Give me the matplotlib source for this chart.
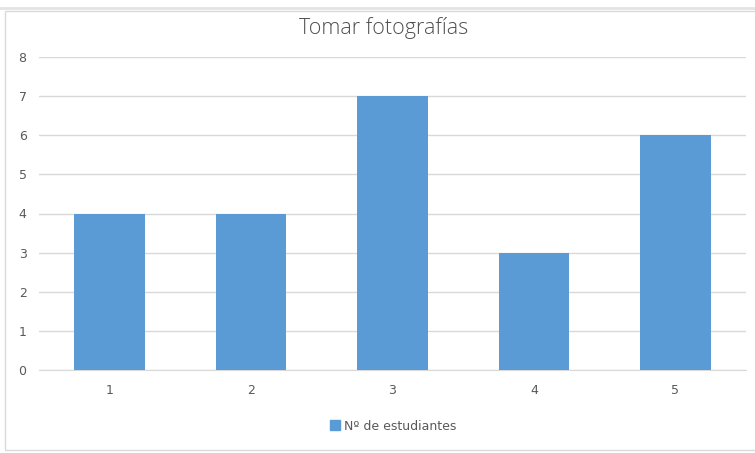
import matplotlib
matplotlib.use("Agg")
import matplotlib.pyplot as plt
from matplotlib.patches import Rectangle, Patch

categories = ["1", "2", "3", "4", "5"]
values = [4, 4, 7, 3, 6]
series_name = "Nº de estudiantes"
title = "Tomar fotografías"
yticks = [0, 1, 2, 3, 4, 5, 6, 7, 8]

W, H = 755, 453
fig = plt.figure(figsize=(W/100, H/100), dpi=100)
fig.patch.set_facecolor("white")

# chart border
fig.add_artist(Rectangle((5/W, 1 - 450/H), 1.2, (450-11)/H, transform=fig.transFigure,
                         fill=False, edgecolor="#d9d9d9", linewidth=1))
fig.add_artist(plt.Line2D([0, 1], [1 - 8/H, 1 - 8/H], transform=fig.transFigure,
                          color="#e3e3e3", linewidth=2))

ax = fig.add_axes([39/W, 1 - 370/H, 707/W, 313/H])
x = list(range(len(categories)))
ax.bar(x, values, width=0.5, color="#5b9bd5", zorder=3)
ax.set_xlim(-0.5, len(categories) - 0.5)
ax.set_ylim(0, 8)
ax.set_yticks(yticks)
ax.set_xticks(x)
ax.set_xticklabels(categories)
ax.grid(axis="y", color="#d9d9d9", linewidth=1, zorder=0)
for s in ["top", "right", "left"]:
    ax.spines[s].set_visible(False)
ax.spines["bottom"].set_color("#d9d9d9")
ax.tick_params(axis="both", length=0, labelsize=9, labelcolor="#595959")
ax.tick_params(axis="y", pad=9)
ax.tick_params(axis="x", pad=10)

fig.text(384/W, 1 - 28/H, title, ha="center", va="center", fontsize=15.5,
         color="#505050", family="Open Sans", fontweight="light")

leg = fig.legend(handles=[Patch(color="#5b9bd5", label=series_name)],
                 loc="center", bbox_to_anchor=(393/W, 1 - 426/H), frameon=False,
                 fontsize=9, handlelength=0.8, handleheight=0.8, handletextpad=0.3)
for t in leg.get_texts():
    t.set_color("#595959")

fig.savefig("out.png", dpi=100)
